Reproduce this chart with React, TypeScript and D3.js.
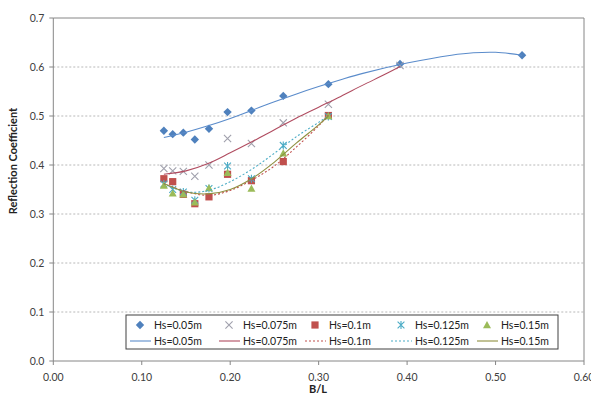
import React from "react";
import * as d3 from "d3";

// B/L values where the tests were run
const blX = [0.125, 0.135, 0.147, 0.160, 0.176, 0.197, 0.224, 0.260, 0.311, 0.392, 0.530];

// measured reflection coefficients
const hs005 = [0.470, 0.463, 0.466, 0.452, 0.474, 0.508, 0.511, 0.541, 0.565, 0.606, 0.624];
const hs0075 = [0.393, 0.388, 0.387, 0.377, 0.400, 0.454, 0.444, 0.486, 0.524, 0.603];
const hs01 = [0.372, 0.366, 0.340, 0.321, 0.335, 0.381, 0.368, 0.407, 0.501];
const hs0125 = [0.361, 0.350, 0.345, 0.328, 0.352, 0.398, 0.372, 0.440, 0.499];
const hs015 = [0.358, 0.342, 0.340, 0.324, 0.353, 0.384, 0.352, 0.424, 0.500];

// trend lines
const trendX005 = [0.125, 0.15, 0.175, 0.2, 0.225, 0.25, 0.275, 0.3, 0.325, 0.35, 0.4, 0.45, 0.475, 0.5, 0.53];
const trend005 = [0.456, 0.467, 0.480, 0.495, 0.512, 0.529, 0.545, 0.560, 0.574, 0.587, 0.608, 0.624, 0.629, 0.630, 0.624];
const trendX0075 = [0.125, 0.15, 0.175, 0.2, 0.225, 0.25, 0.275, 0.3, 0.325, 0.35, 0.375, 0.392];
const trend0075 = [0.381, 0.388, 0.403, 0.425, 0.448, 0.472, 0.496, 0.518, 0.540, 0.563, 0.585, 0.601];
const trendXLow = [0.125, 0.15, 0.175, 0.2, 0.225, 0.25, 0.275, 0.3, 0.311];
const trend01 = [0.362, 0.346, 0.338, 0.348, 0.370, 0.398, 0.437, 0.480, 0.502];
const trend0125 = [0.362, 0.345, 0.348, 0.366, 0.392, 0.424, 0.458, 0.487, 0.500];
const trend015 = [0.362, 0.345, 0.341, 0.350, 0.373, 0.406, 0.445, 0.482, 0.500];

const xTicks = [0, 0.1, 0.2, 0.3, 0.4, 0.5, 0.6];
const yTicks = [0, 0.1, 0.2, 0.3, 0.4, 0.5, 0.6, 0.7];
const labels = ["Hs=0.05m", "Hs=0.075m", "Hs=0.1m", "Hs=0.125m", "Hs=0.15m"];

const markerColors = ["#4F81BD", "#A0A0AC", "#C0504D", "#4BACC6", "#9BBB59"];
const lineColors = ["#5B8CCB", "#B04C60", "#C0504D", "#4BACC6", "#8F8F3F"];
const lineDash = [null, null, "2,2", "2,2", null];

const FONT = "Lato, 'Open Sans', sans-serif";

const Marker = ({ kind, x, y, color }: { kind: number; x: number; y: number; color: string }) => {
  if (kind === 0) {
    const r = 4.2;
    return <path d={`M${x},${y - r}L${x + r},${y}L${x},${y + r}L${x - r},${y}Z`} fill={color} />;
  }
  if (kind === 1) {
    const r = 3.6;
    return (
      <path d={`M${x - r},${y - r}L${x + r},${y + r}M${x - r},${y + r}L${x + r},${y - r}`} stroke={color} strokeWidth={1.1} />
    );
  }
  if (kind === 2) {
    const r = 3.6;
    return <rect x={x - r} y={y - r} width={r * 2} height={r * 2} fill={color} />;
  }
  if (kind === 3) {
    const r = 3.4;
    return (
      <path
        d={`M${x - r},${y - r}L${x + r},${y + r}M${x - r},${y + r}L${x + r},${y - r}M${x},${y - r - 0.6}L${x},${y + r + 0.6}`}
        stroke={color}
        strokeWidth={1.1}
      />
    );
  }
  const r = 4;
  return <path d={`M${x},${y - r}L${x + r},${y + r * 0.8}L${x - r},${y + r * 0.8}Z`} fill={color} />;
};

export default function App() {
  const width = 591;
  const height = 400;
  const margin = { left: 53.3, right: 7, top: 18, bottom: 39 };

  const x = d3.scaleLinear().domain([0, 0.6]).range([margin.left, width - margin.right]);
  const y = d3.scaleLinear().domain([0, 0.7]).range([height - margin.bottom, margin.top]);

  const series = [hs005, hs0075, hs01, hs0125, hs015];
  const trends: [number[], number[]][] = [
    [trendX005, trend005],
    [trendX0075, trend0075],
    [trendXLow, trend01],
    [trendXLow, trend0125],
    [trendXLow, trend015],
  ];

  const line = d3
    .line<[number, number]>()
    .x((d) => x(d[0]))
    .y((d) => y(d[1]))
    .curve(d3.curveCatmullRom.alpha(0.5));

  const legX = [140, 229, 315, 401, 487];
  const legRow = [325, 341];

  return (
    <div style={{ position: "absolute", left: 0, top: 0 }}>
      <svg width={width} height={height} style={{ display: "block", background: "#fff" }}>
        {/* grid */}
        {yTicks.slice(1, -1).map((t) => (
          <line key={t} x1={x(0)} x2={x(0.6)} y1={y(t)} y2={y(t)} stroke="#A6A6A6" strokeWidth={0.8} strokeDasharray="2,2" />
        ))}
        {/* frame */}
        <line x1={x(0)} x2={x(0.6)} y1={y(0.7)} y2={y(0.7)} stroke="#868686" strokeWidth={1} />
        <line x1={x(0.6)} x2={x(0.6)} y1={y(0)} y2={y(0.7)} stroke="#868686" strokeWidth={1} />
        <line x1={x(0)} x2={x(0.6)} y1={y(0)} y2={y(0)} stroke="#868686" strokeWidth={1} />
        <line x1={x(0)} x2={x(0)} y1={y(0)} y2={y(0.7)} stroke="#868686" strokeWidth={1} />

        {/* ticks */}
        {yTicks.map((t) => (
          <g key={t}>
            <line x1={x(0) - 4} x2={x(0)} y1={y(t)} y2={y(t)} stroke="#868686" />
            <text x={x(0) - 9} y={y(t)} dy="0.35em" textAnchor="end" fontSize={10.5} fontFamily={FONT} fill="#404040">
              {t.toFixed(1)}
            </text>
          </g>
        ))}
        {xTicks.map((t) => (
          <g key={t}>
            <line x1={x(t)} x2={x(t)} y1={y(0)} y2={y(0) + 4} stroke="#868686" />
            <text x={x(t)} y={y(0) + 16} dy="0.35em" textAnchor="middle" fontSize={10.5} fontFamily={FONT} fill="#404040">
              {t.toFixed(2)}
            </text>
          </g>
        ))}

        {/* axis titles */}
        <text x={318} y={389} dy="0.35em" textAnchor="middle" fontSize={11} fontWeight="bold" fontFamily={FONT} fill="#222">
          B/L
        </text>
        <text
          transform={`translate(13, 161) rotate(-90)`}
          dy="0.35em"
          textAnchor="middle"
          fontSize={11}
          fontWeight="bold"
          fontFamily={FONT}
          fill="#222"
        >
          Reflection Coefficient
        </text>

        {/* markers */}
        {series.map((vals, si) =>
          vals.map((v, i) => <Marker key={`${si}-${i}`} kind={si} x={x(blX[i])} y={y(v)} color={markerColors[si]} />)
        )}

        {/* trend lines */}
        {trends.map(([tx, ty], si) => (
          <path
            key={si}
            d={line(tx.map((v, i) => [v, ty[i]] as [number, number])) || ""}
            fill="none"
            stroke={lineColors[si]}
            strokeWidth={1.1}
            strokeDasharray={lineDash[si] || undefined}
          />
        ))}

        {/* legend */}
        <rect x={126} y={315} width={432} height={34} fill="#fff" stroke="#404040" strokeWidth={1} />
        {labels.map((lab, i) => (
          <g key={lab}>
            <Marker kind={i} x={legX[i]} y={legRow[0]} color={markerColors[i]} />
            <text x={legX[i] + 14} y={legRow[0]} dy="0.35em" fontSize={10.5} fontFamily={FONT} fill="#222">
              {lab}
            </text>
            <line
              x1={legX[i] - 10}
              x2={legX[i] + 11}
              y1={legRow[1]}
              y2={legRow[1]}
              stroke={lineColors[i]}
              strokeWidth={1.1}
              strokeDasharray={lineDash[i] || undefined}
            />
            <text x={legX[i] + 14} y={legRow[1]} dy="0.35em" fontSize={10.5} fontFamily={FONT} fill="#222">
              {lab}
            </text>
          </g>
        ))}
      </svg>
    </div>
  );
}
